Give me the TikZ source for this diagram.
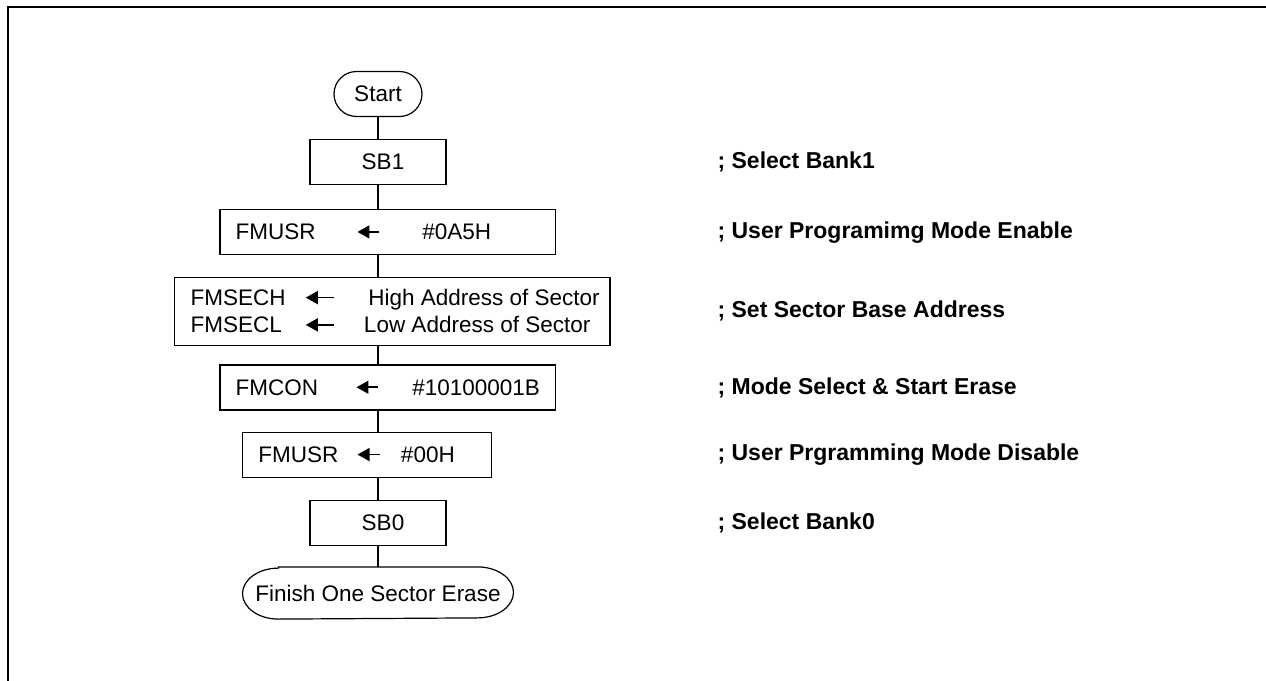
\documentclass[tikz,border=0pt]{standalone}
\usepackage{fontspec}
\setmainfont{Liberation Sans}
\usetikzlibrary{arrows.meta}

\newdimen\pxu \pxu=0.5pt
% small filled left arrow used inside the boxes
\newcommand\lar[1][22]{\makebox[#1\pxu][l]{\tikz[baseline=-4pt]\draw[line width=0.8pt,-{Triangle[length=6pt,width=6.5pt]}] (#1\pxu,0) -- (0,0);}}

\tikzset{
  term/.style={draw, rectangle, rounded corners=11.25pt, minimum width=44pt, minimum height=22.5pt, inner sep=0pt},
  blk/.style={draw, rectangle, minimum height=22.5pt, inner sep=0pt},
  note/.style={anchor=west, inner sep=0pt, font=\fontsize{11.5}{13}\selectfont\bfseries},
}

\begin{document}
\begin{tikzpicture}[x=0.5pt, y=-0.5pt, line width=0.6pt, font=\fontsize{11.25}{13.65}\selectfont]
\useasboundingbox (0,0) rectangle (1266,681);
% frame
\draw[line width=1pt] (7.7,681) -- (7.7,6.7) -- (1266,6.7);

% flow
\node[term] (start) at (378,94) {Start};
\node[blk, minimum width=68pt] (sb1) at (378,161.7) {\hspace{10\pxu}SB1};
\node[blk] (usr1) at (387.85,232.2) {\hbox to 335.7\pxu{\hspace{15.7\pxu}\makebox[121\pxu][l]{FMUSR}\lar\hspace{43.6\pxu}\#0A5H\hss}};
\node[blk, minimum height=34pt, align=left] (sec) at (392.35,311.2) {%
  \hbox to 435.3\pxu{\hspace{16\pxu}\makebox[114.3\pxu][l]{FMSECH}\lar[28.3]\hspace{35\pxu}High Address of Sector\hss}\\
  \hbox to 435.3\pxu{\hspace{16\pxu}\makebox[114.3\pxu][l]{FMSECL}\lar[28.3]\hspace{30.7\pxu}Low Address of Sector\hss}};
\node[blk] (con) at (387.85,387.5) {\hbox to 335.7\pxu{\hspace{15.7\pxu}\makebox[120\pxu][l]{FMCON}\lar\hspace{34.6\pxu}\#10100001B\hss}};
\node[blk] (usr0) at (367.2,454.8) {\hbox to 249\pxu{\hspace{15.6\pxu}\makebox[98.4\pxu][l]{FMUSR}\lar\hspace{22.3\pxu}\#00H\hss}};
\node[blk, minimum width=68pt] (sb0) at (378,522.8) {\hspace{10\pxu}SB0};
\node[minimum width=135.5pt, minimum height=25.5pt, inner sep=0pt] (fin) at (378,593) {Finish One Sector Erase};
\draw ([xshift=-49.75pt]fin.north) -- ([xshift=49.75pt]fin.north)
  arc[start angle=90, end angle=-90, x radius=18pt, y radius=12.75pt]
  -- ([xshift=-49.75pt]fin.south)
  arc[start angle=270, end angle=90, x radius=18pt, y radius=12.75pt] -- cycle;

\foreach \a/\b in {start/sb1, sb1/usr1, usr1/sec, sec/con, con/usr0, usr0/sb0, sb0/fin}
  \draw (sb1 |- \a.south) -- (sb1 |- \b.north);

% comments
\node[note] (c1) at (717,161.7) {; Select Bank1};
\node[note] (c2) at (717,232.2) {; User Programimg Mode Enable};
\node[note] (c3) at (717,311.2) {; Set Sector Base Address};
\node[note] (c4) at (717,387.5) {; Mode Select \& Start Erase};
\node[note] (c5) at (717,454.8) {; User Prgramming Mode Disable};
\node[note] (c6) at (717,522.8) {; Select Bank0};
\end{tikzpicture}
\end{document}
